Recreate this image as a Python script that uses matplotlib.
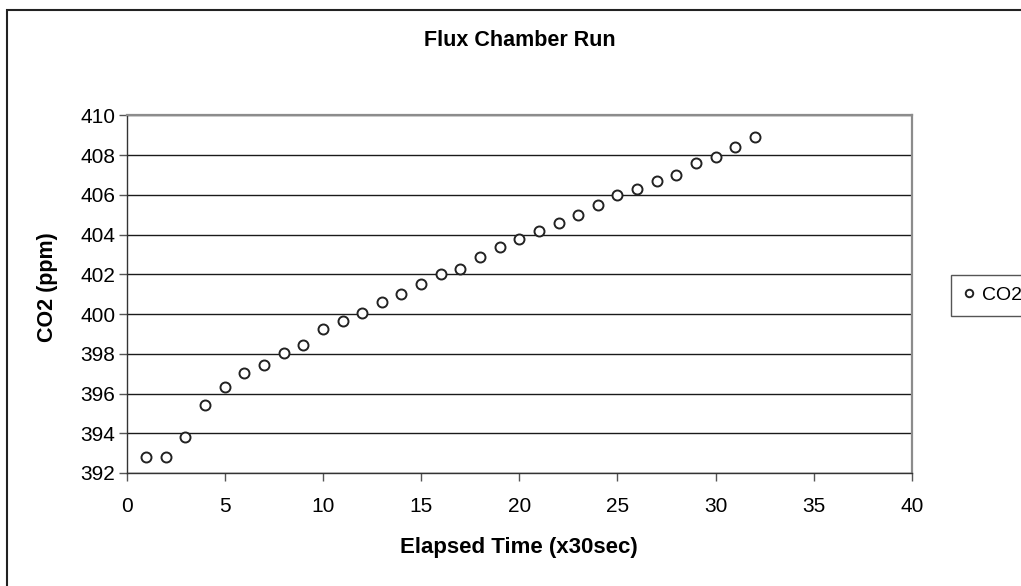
import matplotlib
matplotlib.use("Agg")
import matplotlib.pyplot as plt
from matplotlib.patches import Rectangle

plt.rcParams["font.family"] = ["Liberation Sans", "DejaVu Sans"]

# CO2 readings taken every 30 seconds during the flux chamber run
elapsed = list(range(1, 33))
co2 = [392.82, 392.82, 393.83, 395.44, 396.34, 397.05, 397.45, 398.05,
       398.46, 399.26, 399.66, 400.07, 400.59, 400.99, 401.50, 402.00,
       402.28, 402.88, 403.39, 403.79, 404.19, 404.60, 405.00, 405.50,
       406.00, 406.31, 406.71, 407.01, 407.61, 407.92, 408.42, 408.92]

x_ticks = [0, 5, 10, 15, 20, 25, 30, 35, 40]
y_ticks = [392, 394, 396, 398, 400, 402, 404, 406, 408, 410]

W, H = 1021, 586
fig = plt.figure(figsize=(W / 100, H / 100), dpi=100)
fig.patch.set_facecolor("white")

# plot area in pixel terms
left, right, top, bottom = 126.5, 912, 115.3, 473
ax = fig.add_axes([left / W, 1 - bottom / H, (right - left) / W, (bottom - top) / H])

ax.plot(elapsed, co2, linestyle="none", marker="o", ms=7.2,
        mfc="white", mec="#222222", mew=1.4, label="CO2")

ax.set_xlim(0, 40)
ax.set_ylim(392, 410)
ax.set_xticks(x_ticks)
ax.set_yticks(y_ticks)
ax.yaxis.grid(True, color="#1a1a1a", lw=1.0)
ax.set_axisbelow(True)

for side in ("left", "bottom"):
    ax.spines[side].set_color("#333333")
    ax.spines[side].set_linewidth(1.0)
for side in ("top", "right"):
    ax.spines[side].set_color("#8c8c8c")
    ax.spines[side].set_linewidth(1.6)

ax.tick_params(axis="both", labelsize=15, length=6, width=1.0,
               color="#555555", labelcolor="black", direction="out")
ax.tick_params(axis="y", pad=2)
ax.tick_params(axis="x", pad=11)

# titles and axis labels
fig.text(520 / W, 1 - 40 / H, "Flux Chamber Run", ha="center", va="center",
         fontsize=15.5, fontweight="bold")
fig.text(519 / W, 1 - 547 / H, "Elapsed Time (x30sec)", ha="center",
         va="center", fontsize=16, fontweight="bold")
fig.text(48 / W, 1 - 287 / H, "CO2 (ppm)", ha="center", va="center",
         rotation=90, fontsize=15.5, fontweight="bold")

# legend at the right edge
fig.legend(loc="upper left", bbox_to_anchor=(951 / W, 1 - 275 / H),
           borderaxespad=0, fancybox=False, edgecolor="#555555",
           framealpha=1, fontsize=14, handletextpad=0.3, handlelength=0.7,
           borderpad=0.6, markerscale=0.75)

# chart frame
fig.patches.append(Rectangle((7 / W, -0.1), 1.2, 1.1 - 10 / H,
                             transform=fig.transFigure, fill=False,
                             edgecolor="#222222", lw=1.5))

fig.savefig("out.png", dpi=100)
